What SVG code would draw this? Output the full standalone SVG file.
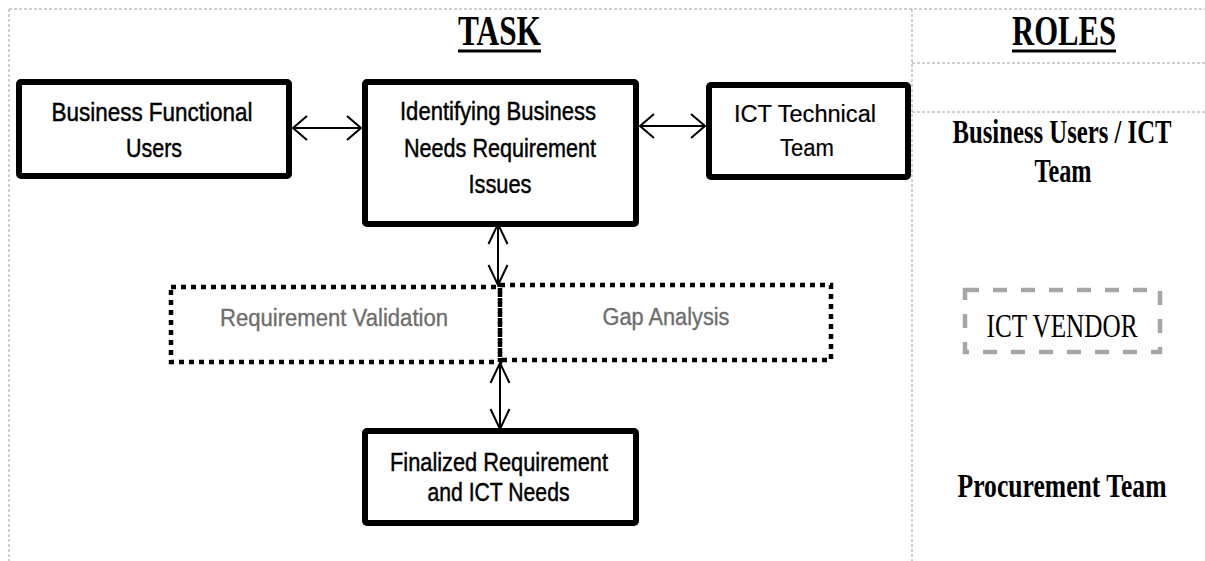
<svg xmlns="http://www.w3.org/2000/svg" width="1205" height="561" viewBox="0 0 1205 561">
  <style>
    .frame { stroke: #a0a0a0; stroke-width: 1; stroke-dasharray: 3 2; fill: none; }
    .box { fill: #ffffff; stroke: #000000; stroke-width: 6; }
    .dotbox { fill: none; stroke: #000000; stroke-width: 4.5; stroke-dasharray: 5 5; }
    .vendor { fill: none; stroke: #a6a6a6; stroke-width: 4.5; stroke-dasharray: 14 14; }
    .sans { font-family: "Liberation Sans", Arial, sans-serif; font-size: 25px; fill: #000000; stroke: #000000; stroke-width: 0.45; text-anchor: middle; }
    .light { font-size: 23px; stroke-width: 0.2; }
    .grey { fill: #6e6e6e; stroke: #6e6e6e; stroke-width: 0.35; font-size: 23.5px; }
    .serif { font-family: "Liberation Serif", "Times New Roman", serif; fill: #000000; text-anchor: middle; }
    .title { font-size: 42px; font-weight: bold; }
    .role { font-size: 33px; font-weight: bold; }
    .link { stroke: #000000; stroke-width: 2; fill: none; }
  </style>
  <defs>
    <marker id="head-h" viewBox="-18 -14 20 28" refX="0" refY="0" markerWidth="20" markerHeight="28" markerUnits="userSpaceOnUse" orient="auto-start-reverse">
      <path d="M-14,-12 L0,0 L-14,12" fill="none" stroke="#000000" stroke-width="2"/>
    </marker>
    <marker id="head-v" viewBox="-24 -12 26 24" refX="0" refY="0" markerWidth="26" markerHeight="24" markerUnits="userSpaceOnUse" orient="auto-start-reverse">
      <path d="M-20,-9.5 L0,0 L-20,9.5" fill="none" stroke="#000000" stroke-width="2"/>
    </marker>
  </defs>

  <!-- page frame and column dividers -->
  <g id="frame">
    <line class="frame" x1="9" y1="9" x2="1205" y2="9"/>
    <line class="frame" x1="9" y1="9" x2="9" y2="561"/>
    <line class="frame" x1="912" y1="9" x2="912" y2="561"/>
    <line class="frame" x1="912" y1="63" x2="1205" y2="63"/>
    <line class="frame" x1="912" y1="112" x2="1205" y2="112"/>
  </g>

  <!-- column headings -->
  <g id="heading-task">
    <text class="serif title" x="499.5" y="45" textLength="83" lengthAdjust="spacingAndGlyphs">TASK</text>
    <rect x="458" y="49.5" width="83" height="3" fill="#000000"/>
  </g>
  <g id="heading-roles">
    <text class="serif title" x="1064" y="45" textLength="104" lengthAdjust="spacingAndGlyphs">ROLES</text>
    <rect x="1012" y="49.5" width="104" height="3" fill="#000000"/>
  </g>

  <!-- connectors -->
  <g id="connectors">
    <line class="link" x1="293" y1="128" x2="361" y2="128" marker-start="url(#head-h)" marker-end="url(#head-h)"/>
    <line class="link" x1="640" y1="126" x2="705" y2="126" marker-start="url(#head-h)" marker-end="url(#head-h)"/>
    <line class="link" x1="498" y1="224" x2="498" y2="285" marker-start="url(#head-v)" marker-end="url(#head-v)"/>
    <line class="link" x1="500" y1="363" x2="500" y2="429" marker-start="url(#head-v)" marker-end="url(#head-v)"/>
  </g>

  <!-- task nodes -->
  <g id="business-functional-users">
    <rect class="box" x="19" y="82" width="270" height="94" rx="2"/>
    <text class="sans" x="152" y="121" textLength="201" lengthAdjust="spacingAndGlyphs">Business Functional</text>
    <text class="sans" x="154" y="157" textLength="56" lengthAdjust="spacingAndGlyphs">Users</text>
  </g>

  <g id="identifying-needs">
    <rect class="box" x="365" y="82" width="271" height="142" rx="2"/>
    <text class="sans" x="498" y="120" textLength="196" lengthAdjust="spacingAndGlyphs">Identifying Business</text>
    <text class="sans" x="500" y="157" textLength="192" lengthAdjust="spacingAndGlyphs">Needs Requirement</text>
    <text class="sans" x="500" y="193" textLength="63" lengthAdjust="spacingAndGlyphs">Issues</text>
  </g>

  <g id="ict-technical-team">
    <rect class="box" x="709" y="85" width="199" height="92" rx="2"/>
    <text class="sans light" x="805" y="122" textLength="142" lengthAdjust="spacingAndGlyphs">ICT Technical</text>
    <text class="sans light" x="807" y="156" textLength="54" lengthAdjust="spacingAndGlyphs">Team</text>
  </g>

  <g id="requirement-validation">
    <rect class="dotbox" x="171" y="287" width="329" height="75"/>
    <text class="sans grey" x="334" y="326" textLength="228" lengthAdjust="spacingAndGlyphs">Requirement Validation</text>
  </g>

  <g id="gap-analysis">
    <rect class="dotbox" x="500" y="285" width="331" height="75"/>
    <text class="sans grey" x="666" y="325" textLength="127" lengthAdjust="spacingAndGlyphs">Gap Analysis</text>
  </g>

  <g id="finalized-requirement">
    <rect class="box" x="365" y="431" width="271" height="92" rx="2"/>
    <text class="sans" x="499" y="471" textLength="218" lengthAdjust="spacingAndGlyphs">Finalized Requirement</text>
    <text class="sans" x="498.5" y="501" textLength="142" lengthAdjust="spacingAndGlyphs">and ICT Needs</text>
  </g>

  <!-- roles column -->
  <g id="role-business-ict">
    <text class="serif role" x="1062" y="143" textLength="219" lengthAdjust="spacingAndGlyphs">Business Users / ICT</text>
    <text class="serif role" x="1063" y="182" textLength="57" lengthAdjust="spacingAndGlyphs">Team</text>
  </g>

  <g id="role-ict-vendor">
    <rect class="vendor" x="965" y="290" width="195" height="62"/>
    <text class="serif" x="1062" y="337" font-size="33" textLength="151" lengthAdjust="spacingAndGlyphs">ICT VENDOR</text>
  </g>

  <g id="role-procurement">
    <text class="serif role" x="1062" y="497" font-size="31" textLength="209" lengthAdjust="spacingAndGlyphs">Procurement Team</text>
  </g>
</svg>
